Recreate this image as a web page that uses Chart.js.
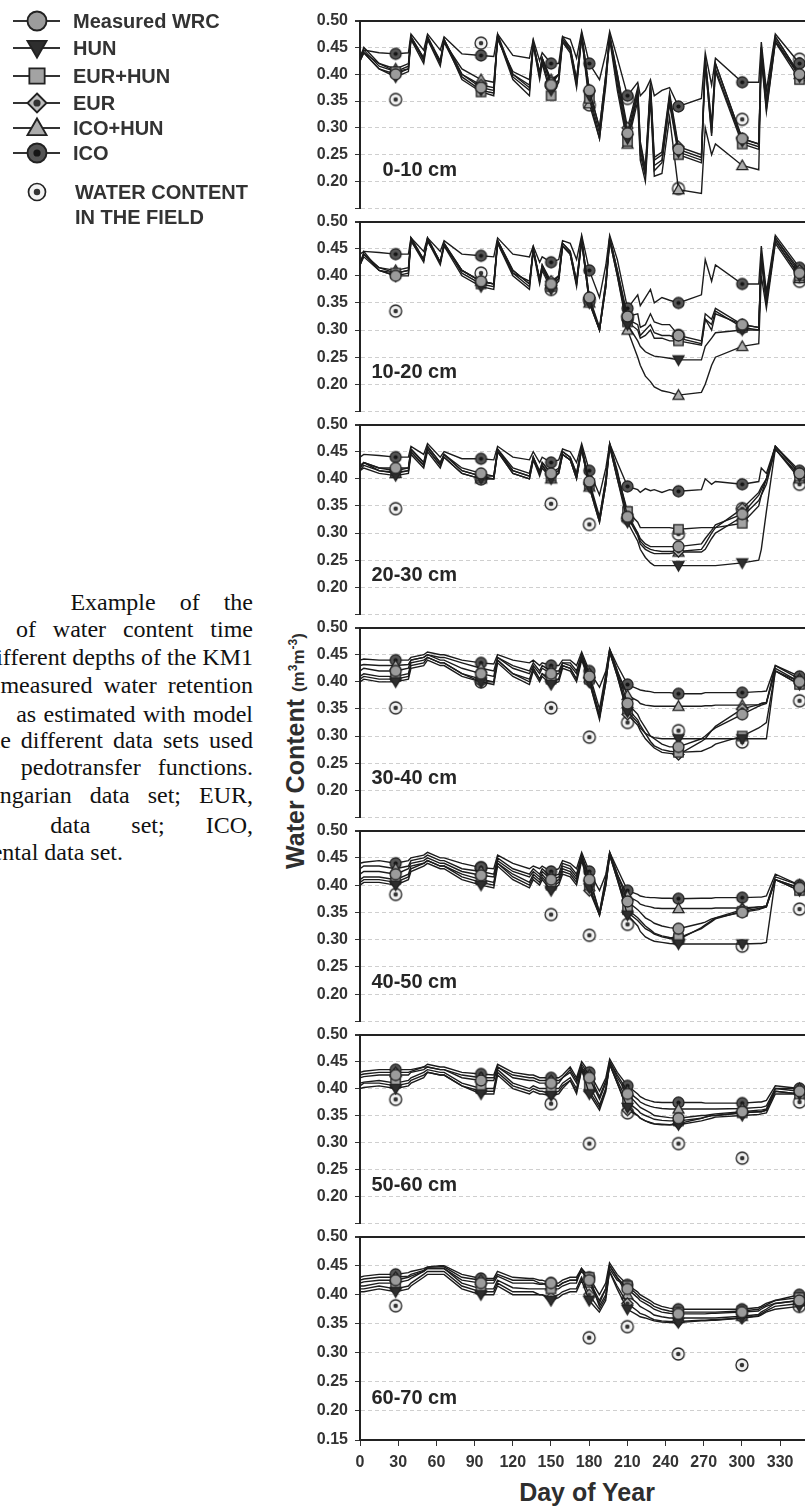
<!DOCTYPE html>
<html>
<head>
<meta charset="utf-8">
<script src="https://cdn.jsdelivr.net/npm/chart.js@4.4.1/dist/chart.umd.min.js"></script>
<style>
  html, body { margin: 0; padding: 0; background: #fff; }
  body { width: 805px; height: 1506px; overflow: hidden; position: relative; }
  canvas.panel { position: absolute; left: 300px; }
  #legend { position: absolute; left: 0; top: 0; }
  .cap { position: absolute; white-space: nowrap; font-family: "Liberation Serif", "Times New Roman", serif;
         font-size: 24px; line-height: 28px; color: #111; }
  #ytitle { position: absolute; left: 143px; top: 736px; width: 300px; height: 30px; line-height: 30px;
            text-align: center; transform: rotate(-90deg); white-space: nowrap;
            font-family: "Liberation Sans", Arial, sans-serif; font-weight: bold; font-size: 25px; color: #2e2e2e; }
  #ytitle span { font-size: 17px; }
  #ytitle sup { font-size: 12px; }
  #xtitle { position: absolute; left: 437px; top: 1477px; width: 300px; line-height: 30px; text-align: center;
            font-family: "Liberation Sans", Arial, sans-serif; font-weight: bold; font-size: 25px; color: #2e2e2e; }
</style>
</head>
<body>
<canvas id="legend" width="280" height="235"></canvas>

<div class="cap" style="right:552px; top:588px; word-spacing:18px;">Example of the</div>
<div class="cap" style="right:552px; top:615px; word-spacing:10.8px;">comparison of water content time</div>
<div class="cap" style="right:552px; top:643px;">at different depths of the KM1</div>
<div class="cap" style="right:552px; top:671px; word-spacing:5px;">profile with measured water retention</div>
<div class="cap" style="right:552px; top:700px; word-spacing:1.4px;">as estimated with model</div>
<div class="cap" style="right:552px; top:726px; word-spacing:4px;">using the different data sets used</div>
<div class="cap" style="right:552px; top:753px; word-spacing:11px;">pedotransfer functions.</div>
<div class="cap" style="right:552px; top:781px; word-spacing:12px;">HUN, Hungarian data set; EUR,</div>
<div class="cap" style="right:552px; top:811px; word-spacing:35px;">data set; ICO,</div>
<div class="cap" style="right:682px; top:838px;">Intercontinental data set.</div>

<div id="ytitle">Water Content <span>(m<sup>3</sup>m<sup>-3</sup>)</span></div>
<div id="xtitle">Day of Year</div>

<script>
// day grid shared by all depths
const days = [0, 3, 15, 28, 38, 40, 50, 53, 63, 66,
              80, 95, 105, 108, 120, 133, 136, 141, 143, 150,
              156, 159, 165, 170, 174, 180, 188, 193, 196, 202,
              210, 218, 220, 224, 228, 231, 237, 243, 250, 268,
              271, 276, 279, 300, 313, 315, 319, 326, 345, 365];
const markerDays = [28, 95, 150, 180, 210, 250, 300, 345];
const fieldDays = [28, 95, 150, 180, 210, 250, 300, 345];
const depthLabels = ['0-10 cm', '10-20 cm', '20-30 cm', '30-40 cm', '40-50 cm', '50-60 cm', '60-70 cm'];
const seriesNames = ['Measured WRC', 'HUN', 'EUR+HUN', 'EUR', 'ICO+HUN', 'ICO'];

// 0-10 cm
const wrc1 = [0.430, 0.440, 0.410, 0.400, 0.410, 0.470, 0.430, 0.470, 0.420, 0.465,
              0.400, 0.375, 0.370, 0.475, 0.400, 0.375, 0.460, 0.400, 0.430, 0.380,
              0.400, 0.470, 0.450, 0.390, 0.475, 0.370, 0.300, 0.400, 0.475, 0.400,
              0.290, 0.370, 0.270, 0.220, 0.380, 0.240, 0.250, 0.360, 0.260, 0.245,
              0.430, 0.300, 0.420, 0.280, 0.270, 0.450, 0.350, 0.470, 0.400, 0.390];
const hun1 = [0.425, 0.440, 0.410, 0.395, 0.405, 0.465, 0.420, 0.465, 0.415, 0.460,
              0.395, 0.370, 0.365, 0.470, 0.395, 0.370, 0.455, 0.395, 0.425, 0.370,
              0.390, 0.465, 0.445, 0.380, 0.470, 0.360, 0.290, 0.390, 0.470, 0.390,
              0.280, 0.365, 0.260, 0.215, 0.375, 0.230, 0.240, 0.350, 0.255, 0.240,
              0.420, 0.290, 0.410, 0.275, 0.265, 0.440, 0.340, 0.465, 0.395, 0.385];
const eurhun1 = [0.430, 0.445, 0.415, 0.405, 0.410, 0.470, 0.425, 0.470, 0.420, 0.465,
              0.390, 0.367, 0.360, 0.470, 0.390, 0.360, 0.455, 0.390, 0.420, 0.360,
              0.385, 0.460, 0.440, 0.375, 0.470, 0.355, 0.280, 0.380, 0.470, 0.380,
              0.275, 0.360, 0.250, 0.210, 0.370, 0.220, 0.235, 0.345, 0.250, 0.235,
              0.420, 0.285, 0.405, 0.270, 0.260, 0.440, 0.335, 0.460, 0.390, 0.380];
const eur1 = [0.430, 0.450, 0.420, 0.405, 0.415, 0.470, 0.430, 0.470, 0.425, 0.465,
              0.400, 0.380, 0.375, 0.470, 0.400, 0.380, 0.460, 0.400, 0.430, 0.385,
              0.400, 0.465, 0.450, 0.390, 0.475, 0.370, 0.300, 0.400, 0.470, 0.400,
              0.300, 0.375, 0.275, 0.225, 0.385, 0.245, 0.255, 0.365, 0.265, 0.250,
              0.430, 0.305, 0.420, 0.280, 0.270, 0.450, 0.350, 0.470, 0.400, 0.390];
const icohun1 = [0.425, 0.440, 0.420, 0.410, 0.420, 0.465, 0.430, 0.465, 0.425, 0.460,
              0.410, 0.390, 0.385, 0.465, 0.405, 0.390, 0.455, 0.405, 0.430, 0.390,
              0.400, 0.460, 0.445, 0.385, 0.470, 0.345, 0.280, 0.390, 0.465, 0.370,
              0.270, 0.350, 0.240, 0.200, 0.355, 0.210, 0.215, 0.320, 0.185, 0.178,
              0.300, 0.250, 0.270, 0.230, 0.222, 0.430, 0.330, 0.460, 0.400, 0.390];
const ico1 = [0.435, 0.445, 0.440, 0.438, 0.440, 0.475, 0.445, 0.475, 0.445, 0.470,
              0.438, 0.435, 0.433, 0.475, 0.435, 0.430, 0.465, 0.425, 0.440, 0.420,
              0.420, 0.470, 0.465, 0.430, 0.480, 0.420, 0.390, 0.440, 0.480, 0.430,
              0.360, 0.385, 0.360, 0.370, 0.390, 0.360, 0.370, 0.375, 0.340, 0.355,
              0.440, 0.380, 0.430, 0.385, 0.385, 0.460, 0.370, 0.475, 0.420, 0.410];
const field1 = [0.353, 0.458, 0.380, 0.343, 0.355, 0.187, 0.316, 0.428];

// 10-20 cm
const wrc2 = [0.420, 0.440, 0.410, 0.400, 0.405, 0.470, 0.430, 0.470, 0.425, 0.460,
              0.410, 0.390, 0.385, 0.465, 0.410, 0.385, 0.450, 0.395, 0.420, 0.385,
              0.400, 0.460, 0.445, 0.390, 0.470, 0.360, 0.305, 0.390, 0.470, 0.410,
              0.325, 0.330, 0.305, 0.310, 0.330, 0.315, 0.310, 0.310, 0.290, 0.280,
              0.330, 0.320, 0.340, 0.310, 0.305, 0.440, 0.355, 0.470, 0.405, 0.395];
const hun2 = [0.420, 0.435, 0.410, 0.400, 0.400, 0.465, 0.425, 0.465, 0.420, 0.455,
              0.400, 0.380, 0.375, 0.460, 0.400, 0.375, 0.445, 0.385, 0.410, 0.375,
              0.390, 0.455, 0.440, 0.380, 0.465, 0.350, 0.300, 0.380, 0.465, 0.400,
              0.310, 0.280, 0.270, 0.260, 0.255, 0.252, 0.250, 0.248, 0.245, 0.245,
              0.270, 0.285, 0.295, 0.300, 0.300, 0.430, 0.350, 0.465, 0.400, 0.390];
const eurhun2 = [0.425, 0.440, 0.415, 0.405, 0.410, 0.465, 0.430, 0.465, 0.425, 0.460,
              0.405, 0.385, 0.380, 0.465, 0.405, 0.380, 0.450, 0.390, 0.415, 0.380,
              0.395, 0.455, 0.440, 0.385, 0.465, 0.355, 0.300, 0.385, 0.470, 0.405,
              0.315, 0.300, 0.285, 0.290, 0.300, 0.285, 0.285, 0.280, 0.280, 0.272,
              0.320, 0.310, 0.335, 0.305, 0.300, 0.435, 0.350, 0.465, 0.400, 0.390];
const eur2 = [0.420, 0.445, 0.410, 0.405, 0.410, 0.470, 0.430, 0.470, 0.425, 0.460,
              0.410, 0.390, 0.385, 0.465, 0.410, 0.385, 0.450, 0.390, 0.420, 0.390,
              0.400, 0.460, 0.445, 0.390, 0.470, 0.360, 0.300, 0.390, 0.470, 0.410,
              0.320, 0.310, 0.290, 0.300, 0.310, 0.295, 0.290, 0.290, 0.285, 0.275,
              0.320, 0.300, 0.330, 0.310, 0.305, 0.440, 0.360, 0.470, 0.410, 0.400];
const icohun2 = [0.420, 0.440, 0.415, 0.410, 0.415, 0.465, 0.430, 0.465, 0.425, 0.455,
              0.410, 0.390, 0.385, 0.460, 0.405, 0.390, 0.445, 0.395, 0.415, 0.385,
              0.395, 0.455, 0.440, 0.385, 0.465, 0.350, 0.300, 0.380, 0.465, 0.400,
              0.300, 0.250, 0.235, 0.215, 0.205, 0.195, 0.188, 0.185, 0.180, 0.185,
              0.200, 0.235, 0.250, 0.270, 0.275, 0.400, 0.340, 0.460, 0.395, 0.385];
const ico2 = [0.440, 0.445, 0.443, 0.440, 0.440, 0.470, 0.445, 0.470, 0.445, 0.465,
              0.440, 0.437, 0.435, 0.470, 0.440, 0.435, 0.455, 0.425, 0.435, 0.425,
              0.430, 0.465, 0.460, 0.430, 0.475, 0.410, 0.360, 0.420, 0.475, 0.430,
              0.340, 0.365, 0.345, 0.360, 0.375, 0.350, 0.360, 0.355, 0.350, 0.365,
              0.430, 0.390, 0.420, 0.385, 0.385, 0.455, 0.370, 0.475, 0.415, 0.405];
const field2 = [0.335, 0.405, 0.375, 0.355, 0.325, 0.290, 0.305, 0.390];

// 20-30 cm
const wrc3 = [0.425, 0.430, 0.420, 0.420, 0.420, 0.455, 0.430, 0.460, 0.430, 0.445,
              0.420, 0.410, 0.405, 0.455, 0.420, 0.410, 0.440, 0.415, 0.430, 0.410,
              0.420, 0.450, 0.440, 0.410, 0.460, 0.395, 0.330, 0.400, 0.465, 0.415,
              0.330, 0.300, 0.290, 0.280, 0.275, 0.275, 0.275, 0.275, 0.275, 0.280,
              0.290, 0.305, 0.315, 0.335, 0.370, 0.380, 0.400, 0.460, 0.410, 0.400];
const hun3 = [0.415, 0.420, 0.410, 0.406, 0.410, 0.445, 0.420, 0.450, 0.420, 0.440,
              0.410, 0.400, 0.400, 0.450, 0.410, 0.400, 0.435, 0.405, 0.420, 0.400,
              0.410, 0.445, 0.435, 0.400, 0.455, 0.385, 0.320, 0.390, 0.460, 0.400,
              0.320, 0.285, 0.270, 0.255, 0.245, 0.240, 0.240, 0.240, 0.240, 0.240,
              0.240, 0.240, 0.240, 0.245, 0.250, 0.270, 0.340, 0.455, 0.405, 0.395];
const eurhun3 = [0.420, 0.430, 0.415, 0.412, 0.415, 0.450, 0.425, 0.455, 0.425, 0.445,
              0.415, 0.405, 0.400, 0.450, 0.415, 0.405, 0.440, 0.410, 0.425, 0.405,
              0.415, 0.445, 0.435, 0.405, 0.455, 0.390, 0.325, 0.395, 0.460, 0.410,
              0.340, 0.320, 0.310, 0.310, 0.310, 0.310, 0.310, 0.310, 0.307, 0.310,
              0.310, 0.310, 0.310, 0.318, 0.350, 0.370, 0.400, 0.455, 0.405, 0.395];
const eur3 = [0.420, 0.430, 0.420, 0.415, 0.420, 0.455, 0.430, 0.460, 0.430, 0.445,
              0.415, 0.405, 0.405, 0.455, 0.415, 0.405, 0.440, 0.410, 0.430, 0.410,
              0.415, 0.450, 0.440, 0.410, 0.460, 0.390, 0.325, 0.400, 0.465, 0.410,
              0.335, 0.300, 0.285, 0.275, 0.270, 0.268, 0.266, 0.266, 0.266, 0.270,
              0.280, 0.300, 0.310, 0.345, 0.375, 0.385, 0.400, 0.460, 0.410, 0.400];
const icohun3 = [0.415, 0.425, 0.415, 0.410, 0.415, 0.450, 0.425, 0.455, 0.425, 0.440,
              0.410, 0.400, 0.400, 0.450, 0.410, 0.400, 0.435, 0.410, 0.425, 0.400,
              0.410, 0.445, 0.435, 0.400, 0.455, 0.385, 0.320, 0.390, 0.460, 0.400,
              0.330, 0.295, 0.280, 0.270, 0.265, 0.262, 0.262, 0.262, 0.265, 0.265,
              0.270, 0.290, 0.300, 0.330, 0.360, 0.370, 0.390, 0.455, 0.400, 0.390];
const ico3 = [0.440, 0.445, 0.443, 0.440, 0.440, 0.460, 0.445, 0.465, 0.440, 0.450,
              0.437, 0.437, 0.435, 0.460, 0.440, 0.435, 0.450, 0.430, 0.440, 0.430,
              0.435, 0.455, 0.450, 0.430, 0.465, 0.415, 0.370, 0.420, 0.465, 0.430,
              0.386, 0.380, 0.375, 0.382, 0.378, 0.380, 0.375, 0.380, 0.377, 0.380,
              0.400, 0.390, 0.395, 0.390, 0.395, 0.420, 0.410, 0.460, 0.415, 0.405];
const field3 = [0.345, 0.400, 0.354, 0.316, 0.327, 0.298, 0.345, 0.390];

// 30-40 cm
const wrc4 = [0.420, 0.425, 0.420, 0.420, 0.425, 0.440, 0.445, 0.450, 0.440, 0.440,
              0.425, 0.415, 0.410, 0.445, 0.425, 0.415, 0.430, 0.415, 0.425, 0.415,
              0.415, 0.435, 0.430, 0.415, 0.450, 0.410, 0.340, 0.410, 0.460, 0.420,
              0.360, 0.340, 0.330, 0.315, 0.300, 0.295, 0.285, 0.280, 0.280, 0.295,
              0.300, 0.310, 0.315, 0.340, 0.355, 0.357, 0.360, 0.425, 0.400, 0.395];
const hun4 = [0.400, 0.405, 0.400, 0.400, 0.405, 0.425, 0.430, 0.440, 0.430, 0.430,
              0.410, 0.400, 0.395, 0.435, 0.410, 0.395, 0.420, 0.400, 0.410, 0.395,
              0.400, 0.425, 0.420, 0.400, 0.440, 0.400, 0.330, 0.400, 0.455, 0.410,
              0.345, 0.325, 0.315, 0.305, 0.300, 0.297, 0.295, 0.295, 0.295, 0.295,
              0.295, 0.295, 0.295, 0.295, 0.295, 0.295, 0.295, 0.420, 0.395, 0.390];
const eurhun4 = [0.410, 0.415, 0.410, 0.410, 0.415, 0.435, 0.440, 0.445, 0.435, 0.435,
              0.415, 0.405, 0.400, 0.440, 0.415, 0.405, 0.425, 0.405, 0.415, 0.405,
              0.405, 0.430, 0.425, 0.405, 0.445, 0.405, 0.335, 0.405, 0.455, 0.415,
              0.350, 0.330, 0.320, 0.305, 0.290, 0.282, 0.275, 0.272, 0.270, 0.272,
              0.275, 0.280, 0.285, 0.300, 0.315, 0.318, 0.325, 0.420, 0.395, 0.390];
const eur4 = [0.405, 0.410, 0.405, 0.405, 0.410, 0.430, 0.435, 0.445, 0.435, 0.435,
              0.415, 0.400, 0.400, 0.440, 0.415, 0.400, 0.425, 0.405, 0.415, 0.400,
              0.405, 0.430, 0.425, 0.405, 0.445, 0.400, 0.335, 0.400, 0.455, 0.410,
              0.340, 0.320, 0.310, 0.295, 0.285, 0.278, 0.270, 0.268, 0.266, 0.290,
              0.295, 0.310, 0.318, 0.350, 0.358, 0.360, 0.362, 0.420, 0.400, 0.395];
const icohun4 = [0.430, 0.432, 0.430, 0.430, 0.432, 0.440, 0.445, 0.450, 0.445, 0.445,
              0.435, 0.425, 0.420, 0.445, 0.430, 0.420, 0.435, 0.420, 0.430, 0.420,
              0.420, 0.435, 0.435, 0.420, 0.450, 0.415, 0.350, 0.415, 0.460, 0.420,
              0.375, 0.365, 0.360, 0.357, 0.356, 0.355, 0.355, 0.355, 0.355, 0.355,
              0.356, 0.356, 0.357, 0.357, 0.358, 0.360, 0.362, 0.430, 0.405, 0.400];
const ico4 = [0.440, 0.442, 0.440, 0.440, 0.440, 0.445, 0.450, 0.455, 0.450, 0.450,
              0.440, 0.435, 0.433, 0.450, 0.440, 0.435, 0.440, 0.430, 0.435, 0.430,
              0.430, 0.440, 0.440, 0.430, 0.455, 0.420, 0.390, 0.420, 0.460, 0.430,
              0.395, 0.387, 0.385, 0.383, 0.382, 0.380, 0.380, 0.380, 0.378, 0.378,
              0.380, 0.380, 0.380, 0.380, 0.382, 0.382, 0.383, 0.430, 0.410, 0.405];
const field4 = [0.352, 0.400, 0.352, 0.298, 0.325, 0.310, 0.289, 0.365];

// 40-50 cm
const wrc5 = [0.420, 0.425, 0.425, 0.420, 0.430, 0.440, 0.445, 0.450, 0.440, 0.440,
              0.425, 0.418, 0.415, 0.445, 0.425, 0.415, 0.425, 0.415, 0.425, 0.410,
              0.415, 0.435, 0.430, 0.415, 0.455, 0.410, 0.350, 0.410, 0.460, 0.420,
              0.370, 0.355, 0.350, 0.340, 0.335, 0.330, 0.325, 0.322, 0.320, 0.330,
              0.332, 0.338, 0.340, 0.350, 0.355, 0.357, 0.360, 0.410, 0.395, 0.390];
const hun5 = [0.400, 0.405, 0.405, 0.400, 0.410, 0.425, 0.435, 0.440, 0.430, 0.430,
              0.410, 0.400, 0.395, 0.435, 0.410, 0.395, 0.410, 0.400, 0.410, 0.390,
              0.400, 0.420, 0.415, 0.400, 0.445, 0.395, 0.345, 0.400, 0.455, 0.410,
              0.345, 0.325, 0.315, 0.305, 0.300, 0.297, 0.295, 0.293, 0.292, 0.292,
              0.292, 0.292, 0.292, 0.292, 0.293, 0.293, 0.295, 0.410, 0.390, 0.385];
const eurhun5 = [0.410, 0.415, 0.415, 0.410, 0.420, 0.435, 0.440, 0.445, 0.435, 0.435,
              0.420, 0.410, 0.405, 0.440, 0.420, 0.405, 0.420, 0.410, 0.420, 0.400,
              0.410, 0.430, 0.425, 0.410, 0.450, 0.400, 0.345, 0.405, 0.455, 0.415,
              0.355, 0.340, 0.335, 0.325, 0.318, 0.312, 0.307, 0.304, 0.303, 0.320,
              0.325, 0.333, 0.338, 0.352, 0.357, 0.358, 0.360, 0.410, 0.390, 0.385];
const eur5 = [0.405, 0.410, 0.410, 0.405, 0.415, 0.430, 0.440, 0.445, 0.435, 0.435,
              0.415, 0.405, 0.400, 0.440, 0.415, 0.400, 0.415, 0.405, 0.415, 0.395,
              0.405, 0.425, 0.420, 0.405, 0.450, 0.390, 0.345, 0.400, 0.455, 0.410,
              0.350, 0.335, 0.330, 0.320, 0.315, 0.310, 0.305, 0.302, 0.300, 0.322,
              0.327, 0.335, 0.340, 0.355, 0.360, 0.360, 0.362, 0.410, 0.395, 0.390];
const icohun5 = [0.430, 0.435, 0.435, 0.430, 0.435, 0.445, 0.450, 0.455, 0.445, 0.445,
              0.430, 0.425, 0.420, 0.450, 0.430, 0.420, 0.430, 0.420, 0.430, 0.415,
              0.420, 0.440, 0.435, 0.420, 0.455, 0.415, 0.350, 0.415, 0.460, 0.420,
              0.380, 0.370, 0.365, 0.362, 0.360, 0.358, 0.357, 0.357, 0.357, 0.357,
              0.357, 0.357, 0.358, 0.358, 0.360, 0.360, 0.362, 0.415, 0.400, 0.395];
const ico5 = [0.440, 0.442, 0.445, 0.440, 0.445, 0.450, 0.455, 0.460, 0.450, 0.450,
              0.440, 0.432, 0.430, 0.455, 0.440, 0.430, 0.435, 0.430, 0.435, 0.425,
              0.430, 0.445, 0.440, 0.430, 0.460, 0.425, 0.390, 0.420, 0.460, 0.430,
              0.390, 0.383, 0.380, 0.378, 0.377, 0.377, 0.376, 0.376, 0.375, 0.376,
              0.376, 0.376, 0.377, 0.377, 0.378, 0.378, 0.380, 0.420, 0.400, 0.400];
const field5 = [0.383, 0.432, 0.346, 0.308, 0.328, 0.300, 0.288, 0.356];

// 50-60 cm
const wrc6 = [0.420, 0.422, 0.425, 0.425, 0.425, 0.430, 0.435, 0.440, 0.435, 0.435,
              0.420, 0.415, 0.415, 0.440, 0.420, 0.415, 0.415, 0.410, 0.410, 0.410,
              0.410, 0.420, 0.430, 0.410, 0.440, 0.420, 0.380, 0.410, 0.450, 0.420,
              0.390, 0.370, 0.365, 0.360, 0.355, 0.350, 0.348, 0.346, 0.345, 0.350,
              0.350, 0.352, 0.353, 0.357, 0.360, 0.360, 0.362, 0.400, 0.395, 0.395];
const hun6 = [0.400, 0.402, 0.405, 0.400, 0.405, 0.410, 0.420, 0.430, 0.425, 0.425,
              0.405, 0.390, 0.390, 0.425, 0.400, 0.390, 0.395, 0.390, 0.390, 0.387,
              0.390, 0.400, 0.415, 0.390, 0.435, 0.390, 0.360, 0.395, 0.445, 0.410,
              0.365, 0.350, 0.345, 0.340, 0.337, 0.335, 0.334, 0.333, 0.333, 0.340,
              0.342, 0.345, 0.347, 0.350, 0.352, 0.353, 0.355, 0.390, 0.390, 0.390];
const eurhun6 = [0.410, 0.412, 0.415, 0.410, 0.415, 0.420, 0.430, 0.435, 0.430, 0.430,
              0.410, 0.400, 0.400, 0.435, 0.410, 0.400, 0.405, 0.400, 0.400, 0.400,
              0.400, 0.410, 0.420, 0.400, 0.440, 0.405, 0.370, 0.400, 0.445, 0.415,
              0.375, 0.360, 0.355, 0.350, 0.346, 0.343, 0.341, 0.340, 0.340, 0.345,
              0.347, 0.350, 0.350, 0.355, 0.357, 0.357, 0.360, 0.395, 0.390, 0.390];
const eur6 = [0.405, 0.410, 0.410, 0.405, 0.410, 0.415, 0.425, 0.430, 0.425, 0.425,
              0.405, 0.395, 0.395, 0.430, 0.405, 0.395, 0.400, 0.395, 0.395, 0.390,
              0.395, 0.405, 0.415, 0.395, 0.435, 0.395, 0.365, 0.400, 0.445, 0.410,
              0.360, 0.350, 0.345, 0.340, 0.336, 0.334, 0.333, 0.333, 0.335, 0.345,
              0.347, 0.350, 0.350, 0.355, 0.357, 0.357, 0.360, 0.395, 0.390, 0.390];
const icohun6 = [0.425, 0.427, 0.430, 0.430, 0.430, 0.432, 0.440, 0.440, 0.435, 0.435,
              0.425, 0.420, 0.420, 0.440, 0.425, 0.420, 0.420, 0.415, 0.415, 0.415,
              0.415, 0.420, 0.435, 0.415, 0.445, 0.425, 0.385, 0.415, 0.450, 0.425,
              0.395, 0.380, 0.375, 0.370, 0.367, 0.365, 0.363, 0.362, 0.362, 0.362,
              0.362, 0.362, 0.362, 0.363, 0.365, 0.365, 0.368, 0.400, 0.400, 0.395];
const ico6 = [0.430, 0.432, 0.435, 0.435, 0.435, 0.435, 0.440, 0.445, 0.440, 0.440,
              0.430, 0.427, 0.425, 0.445, 0.430, 0.425, 0.425, 0.420, 0.420, 0.420,
              0.420, 0.425, 0.440, 0.420, 0.450, 0.430, 0.395, 0.420, 0.455, 0.430,
              0.405, 0.390, 0.385, 0.380, 0.377, 0.375, 0.374, 0.374, 0.374, 0.374,
              0.373, 0.373, 0.373, 0.373, 0.375, 0.375, 0.378, 0.405, 0.400, 0.400];
const field6 = [0.380, null, 0.372, 0.298, 0.355, 0.298, 0.271, 0.375];

// 60-70 cm
const wrc7 = [0.420, 0.422, 0.425, 0.425, 0.430, 0.432, 0.440, 0.445, 0.445, 0.445,
              0.425, 0.420, 0.420, 0.432, 0.420, 0.420, 0.420, 0.418, 0.418, 0.420,
              0.415, 0.420, 0.425, 0.425, 0.440, 0.425, 0.390, 0.410, 0.450, 0.430,
              0.410, 0.395, 0.390, 0.385, 0.380, 0.375, 0.370, 0.368, 0.367, 0.367,
              0.367, 0.368, 0.368, 0.370, 0.372, 0.375, 0.380, 0.385, 0.390, 0.390];
const hun7 = [0.405, 0.405, 0.410, 0.405, 0.410, 0.415, 0.430, 0.435, 0.435, 0.435,
              0.410, 0.400, 0.400, 0.415, 0.400, 0.400, 0.400, 0.400, 0.400, 0.390,
              0.395, 0.400, 0.405, 0.405, 0.425, 0.390, 0.370, 0.390, 0.440, 0.410,
              0.375, 0.365, 0.362, 0.360, 0.357, 0.355, 0.353, 0.352, 0.352, 0.355,
              0.355, 0.356, 0.356, 0.360, 0.363, 0.365, 0.370, 0.375, 0.380, 0.385];
const eurhun7 = [0.415, 0.415, 0.420, 0.420, 0.425, 0.428, 0.440, 0.445, 0.445, 0.445,
              0.420, 0.410, 0.410, 0.425, 0.412, 0.410, 0.410, 0.410, 0.410, 0.410,
              0.410, 0.415, 0.420, 0.420, 0.445, 0.430, 0.380, 0.400, 0.445, 0.425,
              0.415, 0.400, 0.395, 0.390, 0.385, 0.380, 0.375, 0.372, 0.370, 0.370,
              0.370, 0.370, 0.370, 0.372, 0.375, 0.378, 0.382, 0.390, 0.395, 0.395];
const eur7 = [0.410, 0.410, 0.415, 0.410, 0.415, 0.420, 0.435, 0.440, 0.440, 0.440,
              0.415, 0.405, 0.405, 0.420, 0.405, 0.405, 0.405, 0.400, 0.400, 0.395,
              0.400, 0.405, 0.410, 0.410, 0.430, 0.400, 0.375, 0.395, 0.440, 0.415,
              0.385, 0.372, 0.368, 0.365, 0.360, 0.357, 0.355, 0.354, 0.354, 0.356,
              0.356, 0.357, 0.357, 0.360, 0.364, 0.367, 0.372, 0.380, 0.385, 0.385];
const icohun7 = [0.425, 0.427, 0.430, 0.430, 0.432, 0.435, 0.442, 0.447, 0.448, 0.448,
              0.430, 0.425, 0.425, 0.435, 0.425, 0.425, 0.425, 0.420, 0.420, 0.415,
              0.415, 0.420, 0.425, 0.425, 0.445, 0.420, 0.385, 0.410, 0.450, 0.430,
              0.400, 0.385, 0.380, 0.375, 0.370, 0.365, 0.362, 0.360, 0.360, 0.360,
              0.360, 0.360, 0.360, 0.363, 0.366, 0.370, 0.375, 0.385, 0.390, 0.390];
const ico7 = [0.430, 0.432, 0.435, 0.435, 0.438, 0.440, 0.445, 0.448, 0.450, 0.450,
              0.435, 0.428, 0.428, 0.440, 0.430, 0.428, 0.428, 0.425, 0.425, 0.420,
              0.420, 0.425, 0.430, 0.430, 0.445, 0.430, 0.400, 0.420, 0.455, 0.435,
              0.417, 0.405, 0.400, 0.395, 0.390, 0.385, 0.380, 0.377, 0.375, 0.375,
              0.375, 0.375, 0.375, 0.375, 0.378, 0.380, 0.385, 0.390, 0.400, 0.400];
const field7 = [0.381, null, null, 0.326, 0.345, 0.298, 0.279, 0.380];

const panelSeries = [
  [wrc1, hun1, eurhun1, eur1, icohun1, ico1],
  [wrc2, hun2, eurhun2, eur2, icohun2, ico2],
  [wrc3, hun3, eurhun3, eur3, icohun3, ico3],
  [wrc4, hun4, eurhun4, eur4, icohun4, ico4],
  [wrc5, hun5, eurhun5, eur5, icohun5, ico5],
  [wrc6, hun6, eurhun6, eur6, icohun6, ico6],
  [wrc7, hun7, eurhun7, eur7, icohun7, ico7]
];
const panelField = [field1, field2, field3, field4, field5, field6, field7];

// pixel rows of the 0.50 line in each panel, and the bottom of the last one
const panelTops = [14, 215, 418, 621, 824, 1028, 1230];
const lastBottom = 1440;

const FONT = '"Liberation Sans", Arial, sans-serif';
const shapes = ['circle', 'triDown', 'square', 'diamond', 'triUp', 'circleDark'];
const fills = { circle: '#9c9c9c', triDown: '#2e2e2e', square: '#a3a3a3', diamond: '#bdbdbd',
                triUp: '#acacac', circleDark: '#555', field: '#f2f2f2' };

function drawMark(ctx, shape, x, y, r) {
  ctx.save();
  ctx.lineWidth = Math.max(1.3, r / 5);
  ctx.strokeStyle = '#222';
  ctx.fillStyle = fills[shape];
  ctx.beginPath();
  if (shape === 'square') {
    ctx.rect(x - r * 0.85, y - r * 0.85, r * 1.7, r * 1.7);
  } else if (shape === 'diamond') {
    ctx.moveTo(x, y - r); ctx.lineTo(x + r, y); ctx.lineTo(x, y + r); ctx.lineTo(x - r, y); ctx.closePath();
  } else if (shape === 'triUp') {
    ctx.moveTo(x, y - r); ctx.lineTo(x + r, y + r * 0.75); ctx.lineTo(x - r, y + r * 0.75); ctx.closePath();
  } else if (shape === 'triDown') {
    ctx.moveTo(x, y + r); ctx.lineTo(x + r, y - r * 0.75); ctx.lineTo(x - r, y - r * 0.75); ctx.closePath();
  } else {
    ctx.arc(x, y, r, 0, Math.PI * 2);
  }
  ctx.fill();
  ctx.stroke();
  if (shape === 'diamond' || shape === 'circleDark' || shape === 'field') {
    ctx.beginPath();
    ctx.fillStyle = shape === 'circleDark' ? '#151515' : '#333';
    ctx.arc(x, y, r * 0.38, 0, Math.PI * 2);
    ctx.fill();
  }
  ctx.restore();
}

function makeMarker(shape, r) {
  const c = document.createElement('canvas');
  const s = Math.ceil(r * 2 + 4);
  c.width = s; c.height = s;
  drawMark(c.getContext('2d'), shape, s / 2, s / 2, r);
  return c;
}

const seriesMarkers = shapes.map(s => makeMarker(s, 5.5));
const fieldMarker = makeMarker('field', 6);

// legend
(function () {
  const ctx = document.getElementById('legend').getContext('2d');
  const rows = [21, 48, 76, 103, 128, 153];
  rows.forEach((y, i) => {
    ctx.strokeStyle = '#333';
    ctx.lineWidth = 2;
    ctx.beginPath(); ctx.moveTo(13, y); ctx.lineTo(60, y); ctx.stroke();
    drawMark(ctx, shapes[i], 37, y, shapes[i] === 'square' ? 9 : 9.5);
    ctx.fillStyle = '#333';
    ctx.font = 'bold 20px ' + FONT;
    ctx.textBaseline = 'middle';
    ctx.fillText(seriesNames[i], 73, y + 1);
  });
  drawMark(ctx, 'field', 37, 192, 8.5);
  ctx.fillStyle = '#333';
  ctx.font = 'bold 20px ' + FONT;
  ctx.textBaseline = 'middle';
  ctx.fillText('WATER CONTENT', 75, 193);
  ctx.fillText('IN THE FIELD', 75, 218);
})();

const depthLabel = {
  id: 'depthLabel',
  afterDatasetsDraw(chart, args, opts) {
    const { ctx, chartArea, scales } = chart;
    ctx.save();
    ctx.font = 'bold 20px ' + FONT;
    ctx.fillStyle = '#262626';
    ctx.textAlign = 'right';
    ctx.textBaseline = 'middle';
    ctx.fillText(opts.text, chartArea.left + 97, scales.y.getPixelForValue(0.221));
    ctx.restore();
  }
};

Chart.defaults.font.family = FONT;

panelTops.forEach((top, k) => {
  const last = k === panelTops.length - 1;
  const bottom = last ? lastBottom : panelTops[k + 1];
  const padTop = 10;
  const xAxisH = last ? 40 : 0;
  const canvasTop = top - padTop;
  const canvasH = last ? 1506 - canvasTop : (bottom - top) + padTop + 10;
  const padBottom = canvasH - padTop - (bottom - top) - xAxisH;

  const cv = document.createElement('canvas');
  cv.className = 'panel';
  cv.width = 545;
  cv.height = canvasH;
  cv.style.top = canvasTop + 'px';
  document.body.appendChild(cv);

  const datasets = panelSeries[k].map((vals, s) => ({
    label: seriesNames[s],
    data: days.map((d, i) => ({ x: d, y: vals[i] })),
    borderColor: '#1c1c1c',
    borderWidth: 1.4,
    pointStyle: seriesMarkers[s],
    pointRadius: c => markerDays.includes(days[c.dataIndex]) ? 5.5 : 0,
    tension: 0
  }));
  datasets.push({
    label: 'WATER CONTENT IN THE FIELD',
    data: fieldDays.map((d, i) => ({ x: d, y: panelField[k][i] })).filter(p => p.y !== null),
    showLine: false,
    pointStyle: fieldMarker,
    pointRadius: 6
  });

  const xScale = {
    type: 'linear',
    min: 0,
    max: 365,
    display: last,
    grid: { drawOnChartArea: false, tickLength: 6, color: '#333' },
    border: { color: '#222', width: 2 },
    ticks: {
      stepSize: 30,
      autoSkip: false,
      maxRotation: 0,
      padding: 7,
      color: '#333',
      font: { size: 16, weight: 'bold' }
    }
  };
  if (last) xScale.afterFit = s => { s.height = 40; };

  new Chart(cv, {
    type: 'line',
    data: { datasets },
    plugins: [depthLabel],
    options: {
      responsive: false,
      animation: false,
      layout: { padding: { top: padTop, bottom: padBottom, left: 0, right: 20 } },
      plugins: {
        legend: { display: false },
        tooltip: { enabled: false },
        depthLabel: { text: depthLabels[k] }
      },
      scales: {
        x: xScale,
        y: {
          min: 0.15,
          max: 0.50,
          grid: {
            color: c => c.tick && c.tick.value > 0.495 ? '#222' : '#cfcfcf',
            lineWidth: c => c.tick && c.tick.value > 0.495 ? 2 : 1,
            tickLength: 5,
            tickColor: '#333'
          },
          border: {
            color: '#222',
            width: 2,
            dash: c => (c.tick && c.tick.value > 0.495) ? [] : [4, 3]
          },
          ticks: {
            stepSize: 0.05,
            padding: 7,
            color: '#333',
            font: { size: 16, weight: 'bold' },
            callback: v => (last || v > 0.17) ? v.toFixed(2) : ''
          },
          afterFit: s => { s.width = 60; }
        }
      }
    }
  });
});
</script>
</body>
</html>
